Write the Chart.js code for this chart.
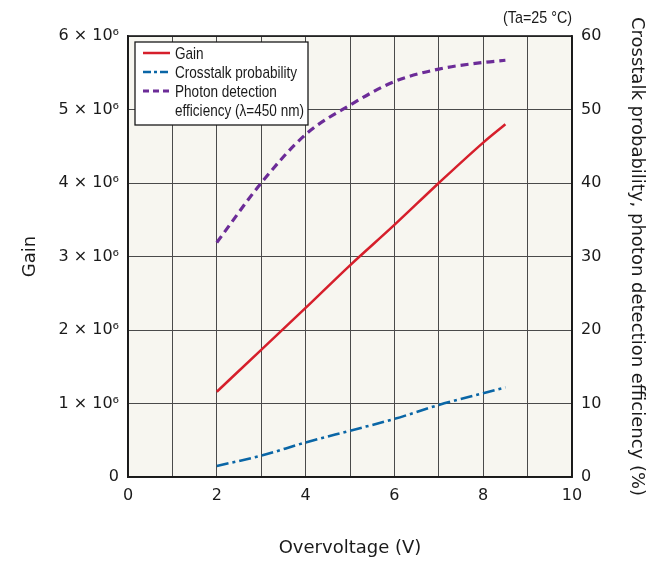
<!DOCTYPE html>
<html>
<head>
<meta charset="utf-8">
<script src="https://cdn.jsdelivr.net/npm/chart.js@4.4.1/dist/chart.umd.min.js"></script>
<style>
  html, body { margin: 0; padding: 0; background: #ffffff; }
  #wrap { width: 647px; height: 565px; position: relative; }
</style>
</head>
<body>
<div id="wrap"><canvas id="chart" width="647" height="565"></canvas></div>
<script>
// Overvoltage (V)
const overvoltage = [2, 3, 4, 5, 6, 7, 8, 8.5];
// Gain
const gain = [1.16e6, 1.73e6, 2.30e6, 2.88e6, 3.43e6, 4.00e6, 4.55e6, 4.80e6];
// Crosstalk probability (%)
const crosstalk = [1.5, 2.9, 4.7, 6.3, 7.9, 9.8, 11.4, 12.2];
// Photon detection efficiency at 450 nm (%)
const pde = [31.9, 40.0, 46.6, 50.6, 53.8, 55.5, 56.4, 56.7];

const gainTicks = ['0', '1 × 10⁶', '2 × 10⁶', '3 × 10⁶', '4 × 10⁶', '5 × 10⁶', '6 × 10⁶'];
const percentTicks = ['0', '10', '20', '30', '40', '50', '60'];
const voltTicks = ['0', '2', '4', '6', '8', '10'];

const legendLabels = ['Gain', 'Crosstalk probability', 'Photon detection', 'efficiency (λ=450 nm)'];
const noteText = '(Ta=25 °C)';

const RED = '#d61f2b', BLUE = '#0a66a6', PURPLE = '#6c2c98';
const TXT = '#1a1a1a';
const FONT = '"DejaVu Sans", Verdana, sans-serif';
const NARROW = '"Liberation Sans Narrow", "Liberation Sans", sans-serif';

const pts = (ys) => overvoltage.map((x, i) => ({ x, y: ys[i] }));

// Draw text, squeezing it horizontally only when it exceeds the room it has.
function fitText(ctx, text, x, y, squeeze, align) {
  ctx.save();
  ctx.translate(x, y);
  ctx.scale(squeeze, 1);
  ctx.textAlign = align;
  ctx.fillText(text, 0, 0);
  ctx.restore();
}

const plotFrame = {
  id: 'plotFrame',
  beforeDraw(chart) {
    const { ctx, chartArea: a } = chart;
    ctx.save();
    ctx.fillStyle = '#f7f6f0';
    ctx.fillRect(a.left, a.top, a.right - a.left, a.bottom - a.top);
    ctx.restore();
  },
  afterDraw(chart) {
    const { ctx, chartArea: a } = chart;
    ctx.save();
    ctx.strokeStyle = '#1a1a1a';
    ctx.lineWidth = 1.6;
    ctx.strokeRect(a.left, a.top, a.right - a.left, a.bottom - a.top);

    // condition note
    ctx.fillStyle = TXT;
    ctx.font = '17px ' + NARROW;
    ctx.textBaseline = 'middle';
    const noteSqueeze = Math.min(1, 69 / ctx.measureText(noteText).width);
    fitText(ctx, noteText, a.right, a.top - 18, noteSqueeze, 'right');

    // legend box
    const bx = a.left + 7, by = a.top + 6, bw = 173, bh = 83;
    ctx.fillStyle = '#ffffff';
    ctx.fillRect(bx, by, bw, bh);
    ctx.strokeStyle = '#1a1a1a';
    ctx.lineWidth = 1.3;
    ctx.strokeRect(bx, by, bw, bh);

    const sx0 = bx + 8, sx1 = bx + 35, tx = bx + 40;
    const rows = [by + 11, by + 30, by + 49, by + 68];
    const samples = [
      { color: RED, dash: [], width: 2.5 },
      { color: BLUE, dash: [8, 3, 3, 3], width: 2.5 },
      { color: PURPLE, dash: [6, 4], width: 3 }
    ];
    samples.forEach((s, i) => {
      ctx.beginPath();
      ctx.setLineDash(s.dash);
      ctx.strokeStyle = s.color;
      ctx.lineWidth = s.width;
      ctx.moveTo(sx0, rows[i]);
      ctx.lineTo(sx1, rows[i]);
      ctx.stroke();
    });
    ctx.setLineDash([]);
    ctx.fillStyle = TXT;
    ctx.font = '17px ' + NARROW;
    ctx.textBaseline = 'middle';
    const widest = Math.max(...legendLabels.map((t) => ctx.measureText(t).width));
    const squeeze = Math.min(1, 129 / widest);
    legendLabels.forEach((t, i) => fitText(ctx, t, tx, rows[i] + 1, squeeze, 'left'));
    ctx.restore();
  }
};

new Chart(document.getElementById('chart'), {
  type: 'line',
  data: {
    datasets: [
      {
        label: legendLabels[0],
        data: pts(gain),
        yAxisID: 'y',
        borderColor: RED,
        borderWidth: 2.5,
        pointRadius: 0,
        cubicInterpolationMode: 'monotone'
      },
      {
        label: legendLabels[1],
        data: pts(crosstalk),
        yAxisID: 'y2',
        borderColor: BLUE,
        borderWidth: 2.6,
        borderDash: [12, 4, 3, 4],
        pointRadius: 0,
        cubicInterpolationMode: 'monotone'
      },
      {
        label: legendLabels[2] + ' ' + legendLabels[3],
        data: pts(pde),
        yAxisID: 'y2',
        borderColor: PURPLE,
        borderWidth: 3.2,
        borderDash: [8, 5],
        pointRadius: 0,
        cubicInterpolationMode: 'monotone'
      }
    ]
  },
  options: {
    responsive: false,
    animation: false,
    devicePixelRatio: 1,
    layout: { padding: { top: 36, left: 0, right: 0, bottom: 0 } },
    plugins: {
      legend: { display: false },
      tooltip: { enabled: false }
    },
    scales: {
      x: {
        type: 'linear',
        min: 0, max: 10,
        afterFit(s) { s.height = 88; },
        afterBuildTicks(s) {
          s.ticks = Array.from({ length: 11 }, (_, i) => ({ value: i }));
        },
        grid: { color: '#4a4a4a', lineWidth: 1, drawTicks: false },
        border: { color: '#1a1a1a', width: 1.6 },
        ticks: {
          autoSkip: false,
          maxRotation: 0,
          padding: 9,
          color: TXT,
          font: { family: FONT, size: 16 },
          callback: (v) => (v % 2 === 0 ? voltTicks[v / 2] : '')
        },
        title: {
          display: true,
          text: 'Overvoltage (V)',
          color: TXT,
          font: { family: FONT, size: 18 },
          padding: { top: 0, bottom: 6 }
        }
      },
      y: {
        type: 'linear',
        position: 'left',
        min: 0, max: 6e6,
        afterFit(s) { s.width = 128; },
        afterBuildTicks(s) {
          s.ticks = gainTicks.map((_, i) => ({ value: i * 1e6 }));
        },
        grid: { color: '#4a4a4a', lineWidth: 1, drawTicks: false },
        border: { color: '#1a1a1a', width: 1.6 },
        ticks: {
          padding: 9,
          color: TXT,
          font: { family: FONT, size: 16 },
          callback: (v) => gainTicks[Math.round(v / 1e6)]
        },
        title: {
          display: true,
          text: 'Gain',
          color: TXT,
          font: { family: FONT, size: 18 },
          padding: { top: 20, bottom: 0 }
        }
      },
      y2: {
        type: 'linear',
        position: 'right',
        min: 0, max: 60,
        afterFit(s) { s.width = 75; },
        afterBuildTicks(s) {
          s.ticks = percentTicks.map((_, i) => ({ value: i * 10 }));
        },
        grid: { display: false, drawTicks: false },
        border: { color: '#1a1a1a', width: 1.6 },
        ticks: {
          padding: 9,
          color: TXT,
          font: { family: FONT, size: 16 },
          callback: (v) => percentTicks[Math.round(v / 10)]
        },
        title: {
          display: true,
          text: 'Crosstalk probability, photon detection efficiency (%)',
          color: TXT,
          font: { family: FONT, size: 18 },
          padding: { top: 0, bottom: 0 }
        }
      }
    }
  },
  plugins: [plotFrame]
});
</script>
</body>
</html>
